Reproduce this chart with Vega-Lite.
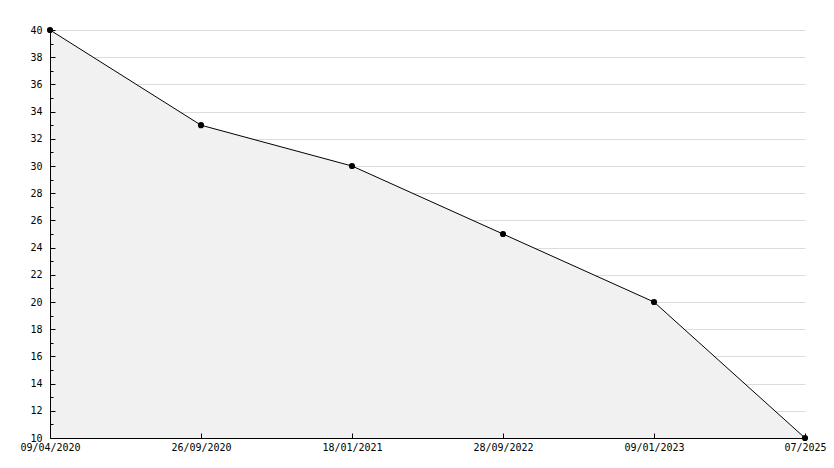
{
  "$schema": "https://vega.github.io/schema/vega-lite/v6.json",
  "autosize": "none",
  "width": 755,
  "height": 408,
  "padding": {"left": 50, "top": 30, "right": 29, "bottom": 30},
  "background": "white",
  "config": {
    "view": {"stroke": null},
    "axis": {"labelFont": "DejaVu Sans Mono", "labelFontSize": 10, "labelColor": "black", "domainColor": "black", "domainWidth": 1, "tickColor": "black", "tickWidth": 1}
  },
  "data": {"values": [
    {"date": "09/04/2020", "value": 40},
    {"date": "26/09/2020", "value": 33},
    {"date": "18/01/2021", "value": 30},
    {"date": "28/09/2022", "value": 25},
    {"date": "09/01/2023", "value": 20},
    {"date": "07/2025", "value": 10}
  ]},
  "encoding": {
    "x": {"field": "date", "type": "ordinal", "sort": null, "scale": {"type": "point", "padding": 0},
      "axis": {"title": null, "labelAngle": 0, "tickSize": -5, "labelPadding": 9, "labelFlush": false, "labelOverlap": false, "grid": false, "zindex": 1}}
  },
  "layer": [
    {"mark": {"type": "area", "color": "#f1f1f1"},
     "encoding": {
       "y": {"field": "value", "type": "quantitative", "scale": {"domain": [10, 40], "zero": false, "nice": false},
         "axis": {"title": null, "orient": "left", "values": [12,14,16,18,20,22,24,26,28,30,32,34,36,38,40],
           "grid": true, "gridColor": "#dcdcdc", "domain": false, "ticks": false, "labels": false, "zindex": 0}},
       "y2": {"datum": 10}}},
    {"mark": {"type": "line", "color": "black", "strokeWidth": 1},
     "encoding": {
       "y": {"field": "value", "type": "quantitative", "scale": {"domain": [10, 40], "zero": false, "nice": false},
         "axis": {"title": null, "orient": "left", "values": [10,11,12,13,14,15,16,17,18,19,20,21,22,23,24,25,26,27,28,29,30,31,32,33,34,35,36,37,38,39,40],
           "labelExpr": "datum.value % 2 === 0 ? datum.label : ''",
           "tickSize": {"condition": {"test": "datum.value % 2 === 0", "value": -5}, "value": -3},
           "labelPadding": 13, "grid": false, "zindex": 1,
           "labelOverlap": false, "labelFlush": false}}}},
    {"mark": {"type": "point", "shape": "circle", "filled": true, "color": "black", "opacity": 1, "size": 38},
     "encoding": {"y": {"field": "value", "type": "quantitative", "axis": null}}}
  ],
  "resolve": {"axis": {"y": "independent"}}
}
